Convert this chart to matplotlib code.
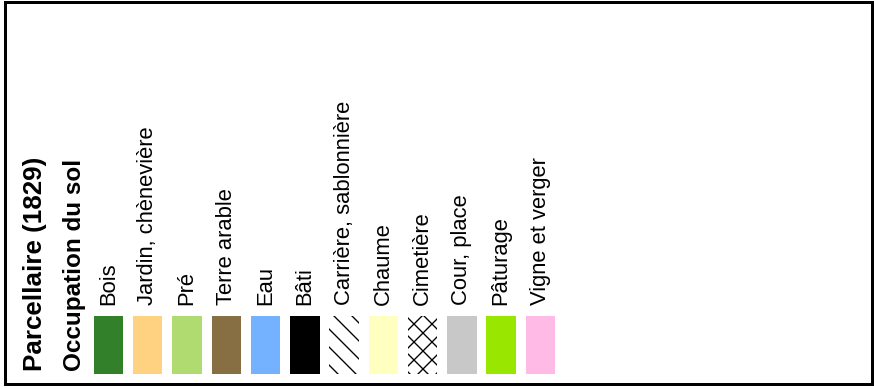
import matplotlib
matplotlib.use('Agg')
import matplotlib.pyplot as plt
from matplotlib.patches import Rectangle

W, H = 874, 389
DPI = 108
plt.rcParams['font.family'] = ['Liberation Sans', 'DejaVu Sans']
plt.rcParams['hatch.linewidth'] = 0.9

title = "Parcellaire (1829)"
subtitle = "Occupation du sol"
categories = ["Bois", "Jardin, chènevière", "Pré", "Terre arable", "Eau", "Bâti",
              "Carrière, sablonnière", "Chaume", "Cimetière", "Cour, place",
              "Pâturage", "Vigne et verger"]
colors = ["#33802A", "#FFD282", "#B0DB71", "#876E43", "#74B2FF", "#000000",
          "#FFFFFF", "#FFFFC0", "#FFFFFF", "#C8C8C8", "#99E600", "#FFBBE6"]
hatches = [None, None, None, None, None, None, "\\\\", None, "xx", None, None, None]

fig = plt.figure(figsize=(W / DPI, H / DPI), dpi=DPI)
fig.patch.set_facecolor('white')
ax = fig.add_axes([0, 0, 1, 1])
ax.axis('off')
pitch = 39.27
x0 = 108.5
ax.set_xlim(-x0 / pitch, (W - x0) / pitch)
ax.set_ylim(H, 0)

idx = list(range(len(categories)))
bars = ax.bar(idx, 58, bottom=316, width=0.75, color=colors,
              edgecolor='black', linewidth=0)
for b, h in zip(bars, hatches):
    if h:
        b.set_hatch(h)

fs_lab = 22 * 72 / DPI
for i, lab in zip(idx, categories):
    ax.text(i, 305, lab, rotation=90, ha='center', va='bottom', fontsize=fs_lab)

fs_t = 26 * 72 / DPI
fig.text(35 / W, 1 - 371 / H, title, rotation=90, ha='center', va='bottom',
         fontsize=fs_t, fontweight='bold')
fig.text(74 / W, 1 - 371 / H, subtitle, rotation=90, ha='center', va='bottom',
         fontsize=fs_t * 0.935, fontweight='bold')

fig.add_artist(Rectangle((4.5 / W, 1 - 384 / H), (871.5 - 4.5) / W, (384 - 1.5) / H,
                         transform=fig.transFigure, fill=False,
                         lw=3 * 72 / DPI, edgecolor='black'))

fig.savefig('out.png', dpi=DPI, facecolor='white')
